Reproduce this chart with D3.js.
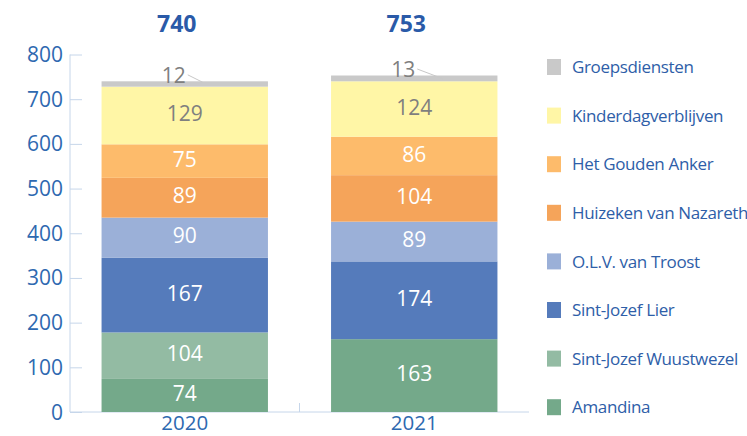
<!DOCTYPE html>
<html><head><meta charset="utf-8">
<script src="https://cdn.jsdelivr.net/npm/d3@7"></script>
<style>body{margin:0;background:#fff}</style>
</head><body>
<svg id="c" width="747" height="436"></svg>
<script>
const years = ["2020", "2021"];
const series = ["Amandina", "Sint-Jozef Wuustwezel", "Sint-Jozef Lier", "O.L.V. van Troost", "Huizeken van Nazareth", "Het Gouden Anker", "Kinderdagverblijven", "Groepsdiensten"];
const values2020 = [74, 104, 167, 90, 89, 75, 129, 12];
const values2021 = [163, 0, 174, 89, 104, 86, 124, 13];
const totals = [740, 753];
const yTicks = [0, 100, 200, 300, 400, 500, 600, 700, 800];
const colors = ["#74a98a", "#93bba3", "#557bbb", "#9bb0d8", "#f5a45a", "#fdbb6b", "#fff6a6", "#c9c9c9"];
const labelColors = ["#fff", "#fff", "#fff", "#fff", "#fff", "#fff", "#7f7f7f", "#7f7f7f"];

const font = "'Open Sans', sans-serif";
const blue = "#2e69b0";
const svg = d3.select("#c");
const x = d3.scaleBand().domain(years).range([70, 529]).paddingInner(0.275).paddingOuter(0.1375);
const y = d3.scaleLinear().domain([0, 800]).range([412, 54.5]);

const rows = years.map((yr, i) => {
  const o = {year: yr};
  const v = i === 0 ? values2020 : values2021;
  series.forEach((s, j) => o[s] = v[j]);
  return o;
});
const stack = d3.stack().keys(series)(rows);

// axes
const axisColor = "#c6d6ea";
const yAxis = svg.append("g").attr("transform", "translate(70,0)")
  .call(d3.axisRight(y).tickValues(yTicks).tickSize(12).tickFormat(""));
yAxis.select(".domain").attr("stroke", axisColor).attr("d", `M0,${y(800)}V${y(0)}`);
yAxis.selectAll(".tick line").attr("stroke", axisColor);
svg.append("g").selectAll("text").data(yTicks).join("text")
  .attr("x", 63).attr("y", d => y(d)).attr("dy", "0.36em").attr("text-anchor", "end")
  .attr("font-family", font).attr("font-size", 21).attr("fill", blue).text(d => d);

svg.append("line").attr("x1", 70).attr("x2", 529).attr("y1", 412).attr("y2", 412).attr("stroke", axisColor);
svg.append("line").attr("x1", 299.5).attr("x2", 299.5).attr("y1", 403).attr("y2", 412).attr("stroke", axisColor);

// bars
stack.forEach((layer, j) => {
  svg.append("g").selectAll("rect").data(layer).join("rect")
    .attr("x", d => x(d.data.year)).attr("width", x.bandwidth())
    .attr("y", d => y(d[1])).attr("height", d => y(d[0]) - y(d[1]))
    .attr("fill", colors[j]);
});

// labels
stack.forEach((layer, j) => {
  layer.forEach((d, i) => {
    const v = d[1] - d[0];
    if (v <= 0) return;
    const cx = x(d.data.year) + x.bandwidth() / 2;
    if (series[j] === "Groepsdiensten") {
      const ty = y(d[1]) + 1.5;
      svg.append("text").attr("x", cx - 11).attr("y", ty).attr("text-anchor", "middle")
        .attr("font-family", font).attr("font-size", 21).attr("fill", labelColors[j]).text(v);
      svg.append("line").attr("x1", cx + 3).attr("y1", ty - 8).attr("x2", cx + 18 + i * 10).attr("y2", y(d[1]) + 1 + i * 2)
        .attr("stroke", "#c8c8c8").attr("stroke-width", 1);
    } else {
      svg.append("text").attr("x", cx).attr("y", (y(d[0]) + y(d[1])) / 2 - 2).attr("dy", "0.36em")
        .attr("text-anchor", "middle").attr("font-family", font).attr("font-size", 21)
        .attr("fill", labelColors[j]).text(v);
    }
  });
});

// year labels
svg.append("g").selectAll("text").data(years).join("text")
  .attr("x", d => x(d) + x.bandwidth() / 2).attr("y", 430).attr("text-anchor", "middle")
  .attr("font-family", font).attr("font-size", 20.5).attr("fill", blue).text(d => d);

// totals
svg.append("g").selectAll("text").data(totals).join("text")
  .attr("x", (d, i) => x(years[i]) + x.bandwidth() / 2 - 8).attr("y", 32).attr("text-anchor", "middle")
  .attr("font-family", font).attr("font-size", 23).attr("font-weight", "bold").attr("fill", "#2a5aa8").text(d => d);

// legend
const legendOrder = series.slice().reverse();
const lg = svg.append("g");
legendOrder.forEach((s, k) => {
  const cy = 67 + k * 48.6;
  lg.append("rect").attr("x", 547).attr("y", cy - 8).attr("width", 14).attr("height", 16)
    .attr("fill", colors[series.indexOf(s)]);
  lg.append("text").attr("x", 572).attr("y", cy).attr("dy", "0.36em")
    .attr("font-family", font).attr("font-size", 17).attr("letter-spacing", -0.35)
    .attr("fill", "#2e5ea8").text(s);
});
</script>
</body></html>
